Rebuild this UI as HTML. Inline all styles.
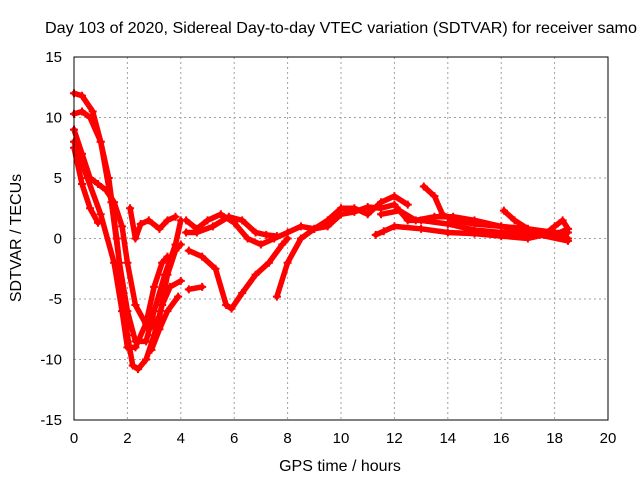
<!DOCTYPE html>
<html><head><meta charset="utf-8"><style>
body{margin:0;background:#fff}
svg{display:block;font-family:"Liberation Sans",sans-serif}
</style></head><body>
<svg id="chart" width="640" height="480" viewBox="0 0 640 480">
<rect width="640" height="480" fill="#fff"/>
<text x="45" y="33" font-size="16" textLength="592" lengthAdjust="spacingAndGlyphs" fill="#000">Day 103 of 2020, Sidereal Day-to-day VTEC variation (SDTVAR) for receiver samo</text>
<text transform="translate(21,238) rotate(-90)" text-anchor="middle" font-size="16">SDTVAR / TECUs</text>
<text x="340" y="471" text-anchor="middle" font-size="16">GPS time / hours</text>
<g id="grid"></g>
<g id="ticks"></g>
<g id="series"></g>
<rect x="74" y="57" width="534" height="363" fill="none" stroke="#000" stroke-width="1"/>
</svg>
<script>
const xTicks=[0,2,4,6,8,10,12,14,16,18,20];
const yTicks=[-15,-10,-5,0,5,10,15];
const track1=[[0,12],[0.3,11.8],[0.7,10.5],[1,8],[1.3,5],[1.6,0],[1.8,-4],[2,-8],[2.2,-10.5],[2.4,-10.8],[2.7,-10],[3.0,-8],[3.3,-5.5],[3.6,-4],[4,-3.5]];
const track2=[[0,10.3],[0.3,10.5],[0.6,10],[1,8],[1.4,3],[1.7,-2],[2.0,-6],[2.3,-8.5],[2.7,-8.5],[3,-6],[3.4,-3],[3.8,-0.5],[4,1.5]];
const track3=[[0,9],[0.3,7],[0.6,5],[0.9,4.5],[1.2,4],[1.5,3],[1.8,1],[2,-2],[2.3,-5.5],[2.8,-7.5],[3.2,-6.5],[3.5,-3],[3.8,-1],[4,-0.5]];
const track4=[[0,7.5],[0.3,4.5],[0.6,2.5],[0.9,1.3]];
const track5=[[0,8],[0.5,5],[1,2],[1.5,-2],[1.8,-6],[2,-9],[2.3,-9],[2.7,-7],[3,-4],[3.3,-2],[3.5,-1.5]];
const track6=[[2.1,2.5],[2.3,0],[2.5,1.2],[2.8,1.5],[3.2,0.8],[3.5,1.5],[3.8,1.8]];
const track7=[[2.9,-9.2],[3.2,-7.5],[3.5,-6],[3.9,-4.8]];
const track8=[[4.3,-4.2],[4.8,-4]];
const track9=[[4.3,-1],[4.8,-1.5],[5.3,-2.5],[5.7,-5.5],[5.9,-5.8],[6.3,-4.5],[6.8,-3],[7.3,-2],[7.8,-0.5],[8,0]];
const track10=[[4.2,1.5],[4.6,0.8],[5,1.5],[5.5,2],[6,1.3],[6.5,0],[7,-0.5],[7.5,0],[8,0.5],[8.5,1],[9,0.8],[9.5,1.5],[10,2.5],[10.5,2.5],[11,2],[11.5,3],[12,3.5],[12.5,2.8]];
const track11=[[4.2,0.5],[4.6,0.5],[5.2,1],[5.8,1.8],[6.3,1.5],[6.8,0.5],[7.2,0.3],[7.6,0.2]];
const track12=[[7.6,-4.8],[8,-2],[8.5,0],[9,0.8],[9.5,1],[10,2],[10.5,2.2],[11,2.6],[11.5,2.5],[12,2.8],[12.5,1.5],[13,1.5],[14,1.2],[15,0.7],[16,0.5],[17,0.3],[18,0.5],[18.5,0.5]];
const track13=[[11.3,0.3],[11.6,0.6],[12,1],[13,0.8],[14,0.5],[15,0.4],[16,0.2],[17,0],[17.6,0.3],[18,1],[18.3,1.5],[18.5,0.8]];
const track14=[[13.1,4.3],[13.5,3.5],[13.8,2],[14.2,1.5],[15,1.2],[16,1],[17,0.8],[18,0.5],[18.5,0]];
const track15=[[16.1,2.3],[16.5,1.5],[17,0.8],[17.5,0.5],[18,0.3],[18.5,0.8]];
const track16=[[11.5,2],[12.2,2.3],[12.8,1.5],[13.5,1.8],[14.2,1.8],[15,1.5],[16,1],[17,0.5],[18.5,-0.2]];
const tracks=[track1,track2,track3,track4,track5,track6,track7,track8,track9,track10,track11,track12,track13,track14,track15,track16];
const NS='http://www.w3.org/2000/svg';
const X0=74,X1=608,Y0=420,Y1=57;
const sx=t=>X0+(t-0)/(20-0)*(X1-X0);
const sy=v=>Y0-(v+15)/30*(Y0-Y1);
const grid=document.getElementById('grid'),ticks=document.getElementById('ticks'),ser=document.getElementById('series');
function mk(tag,a,p){const e=document.createElementNS(NS,tag);for(const k in a)e.setAttribute(k,a[k]);p.appendChild(e);return e;}
xTicks.forEach(t=>{
 const x=sx(t);
 if(t>0&&t<20){const l=mk('line',{x1:x,y1:Y1,x2:x,y2:Y0,stroke:'#a0a0a0','stroke-dasharray':'2,3'},grid);
 
 }
 const tx=mk('text',{x:x,y:443,'text-anchor':'middle','font-size':'15'},ticks);tx.textContent=t;
 
 
});
yTicks.forEach(v=>{
 const y=sy(v);
 if(v>-15&&v<15){const l=mk('line',{x1:X0,y1:y,x2:X1,y2:y,stroke:'#a0a0a0','stroke-dasharray':'2,3'},grid);
 
 }
 const tx=mk('text',{x:62,y:y+5,'text-anchor':'end','font-size':'15'},ticks);tx.textContent=v;
 
 
});
tracks.forEach((tr,i)=>{
 const pl=mk('polyline',{points:tr.map(p=>sx(p[0])+','+sy(p[1])).join(' '),fill:'none',stroke:'#ff0000','stroke-width':'5.5','stroke-linejoin':'round','stroke-linecap':'round'},ser);
 
 
 tr.forEach(p=>{const x=sx(p[0]),y=sy(p[1]);
  const m=mk('path',{d:`M${x-4},${y}H${x+4}M${x},${y-4}V${y+4}`,stroke:'#ff0000','stroke-width':'2'},ser);
  
  });
});
</script>
</body></html>
